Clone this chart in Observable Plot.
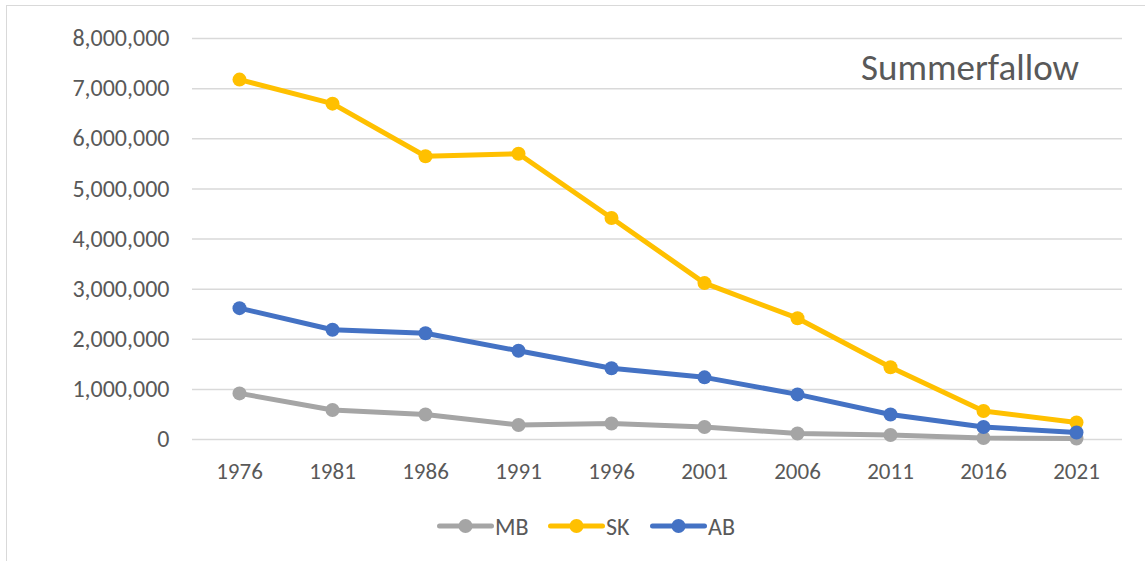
<!DOCTYPE html>
<html>
<head>
<meta charset="utf-8">
<script src="https://cdn.jsdelivr.net/npm/d3@7"></script>
<script src="https://cdn.jsdelivr.net/npm/@observablehq/plot@0.6"></script>
<style>
  html, body { margin: 0; padding: 0; background: #fff; }
  #wrap { position: relative; width: 1145px; height: 561px; overflow: hidden; font-family: Carlito, Lato, sans-serif; color: #595959; }
  #frame { position: absolute; left: 6px; top: 5px; width: 1200px; height: 600px; border-left: 1.5px solid #d9d9d9; border-top: 1.5px solid #d9d9d9; box-sizing: border-box; }
  #chart { position: absolute; left: 0; top: 0; }
  #title { position: absolute; left: 861px; top: 46px; font-size: 37px; line-height: 1.2; white-space: nowrap; }
  .leg { position: absolute; top: 511px; height: 30px; display: flex; align-items: center; font-size: 24px; white-space: nowrap; }
  .leg svg { margin-right: 1px; }
</style>
</head>
<body>
<div id="wrap">
  <div id="frame"></div>
  <div id="chart"></div>
  <div id="title">Summerfallow</div>
  <div id="legend"></div>
</div>
<script>
const years = ["1976", "1981", "1986", "1991", "1996", "2001", "2006", "2011", "2016", "2021"];
const MB = [920000, 590000, 500000, 290000, 320000, 250000, 120000, 90000, 30000, 20000];
const SK = [7180000, 6700000, 5650000, 5700000, 4420000, 3120000, 2420000, 1440000, 570000, 340000];
const AB = [2620000, 2190000, 2120000, 1770000, 1420000, 1240000, 900000, 500000, 250000, 140000];
const seriesNames = ["MB", "SK", "AB"];
const seriesColors = ["#A5A5A5", "#FFC000", "#4472C4"];
const yTicks = [0, 1000000, 2000000, 3000000, 4000000, 5000000, 6000000, 7000000, 8000000];

const seriesValues = [MB, SK, AB];
const data = [];
seriesNames.forEach((name, i) => {
  years.forEach((yr, j) => data.push({ series: name, year: yr, value: seriesValues[i][j] }));
});

const fmt = d3.format(",");

const chart = Plot.plot({
  width: 1145,
  height: 500,
  marginLeft: 192,
  marginRight: 23,
  marginTop: 38,
  marginBottom: 61,
  style: { fontFamily: "Carlito, Lato, sans-serif", fontSize: "23px", color: "#595959", background: "transparent", overflow: "visible" },
  x: { type: "point", domain: years, padding: 0.5, label: null },
  y: { domain: [0, 8000000], label: null },
  color: { domain: seriesNames, range: seriesColors },
  marks: [
    Plot.ruleY(yTicks, { stroke: "#d9d9d9", strokeWidth: 1.5 }),
    Plot.axisY({ ticks: yTicks, tickSize: 0, tickPadding: 23, tickFormat: fmt, fontSize: 24, label: null, fill: "#595959" }),
    Plot.axisX({ tickSize: 0, tickPadding: 23, fontSize: 23, label: null, fill: "#595959" }),
    ...seriesNames.map((name) => Plot.line(data.filter(d => d.series === name), {
      x: "year", y: "value", stroke: "series", strokeWidth: 5, strokeLinejoin: "round", strokeLinecap: "round"
    })),
    ...seriesNames.map((name) => Plot.dot(data.filter(d => d.series === name), {
      x: "year", y: "value", fill: "series", r: 7, stroke: null
    }))
  ]
});
document.getElementById("chart").appendChild(chart);

// Legend
const legendX = [437, 548, 650];
const legend = document.getElementById("legend");
seriesNames.forEach((name, i) => {
  const item = document.createElement("div");
  item.className = "leg";
  item.style.left = legendX[i] + "px";
  item.innerHTML = `<svg width="57" height="20"><line x1="2.5" y1="10" x2="54.5" y2="10" stroke="${seriesColors[i]}" stroke-width="5" stroke-linecap="round"/><circle cx="28.5" cy="10" r="7" fill="${seriesColors[i]}"/></svg><span>${name}</span>`;
  legend.appendChild(item);
});
</script>
</body>
</html>
